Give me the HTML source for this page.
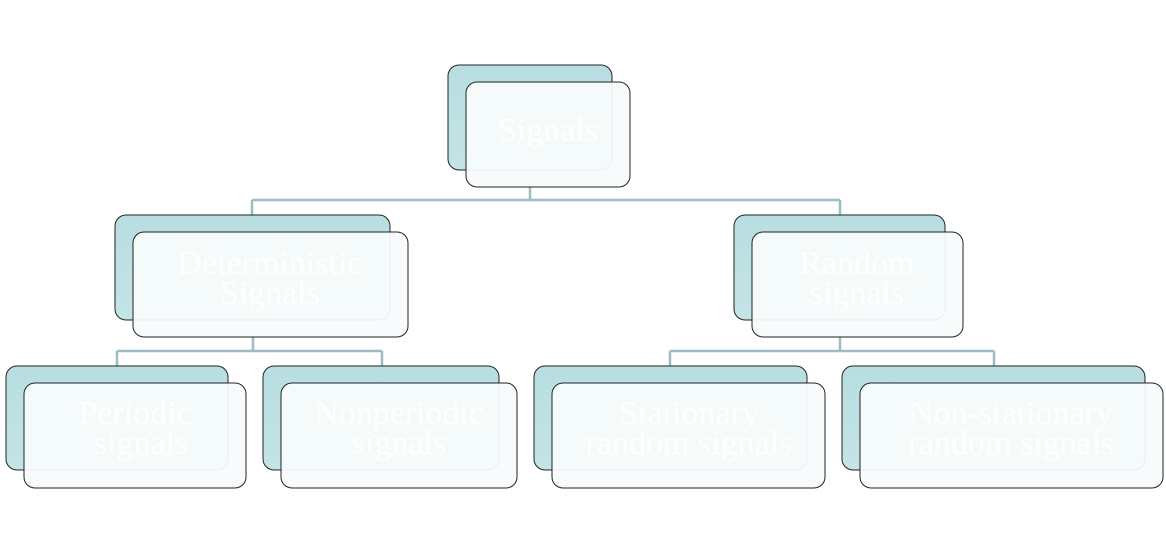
<!DOCTYPE html>
<html><head><style>body{margin:0;background:#fff}svg{display:block}</style></head><body>
<svg width="1166" height="553" xmlns="http://www.w3.org/2000/svg">
<defs>
<linearGradient id="g" x1="0" y1="0" x2="0" y2="1"><stop offset="0" stop-color="#b8dee1"/><stop offset="1" stop-color="#c4e4e6"/></linearGradient>
</defs>
<g stroke="#9cbec2" stroke-width="2.5" fill="none">
<path d="M530 187V200M252 200H840M252 200V215M840 200V215"/>
<path d="M253 337V351M117 351H382M117 351V366M382 351V366"/>
<path d="M840 337V351M670 351H994M670 351V366M994 351V366"/>
</g>
<g font-family="'Liberation Serif',serif" font-size="34" fill="#fff" text-anchor="middle">
<rect x="448" y="65" width="164" height="105" rx="11" fill="url(#g)" stroke="#222"/>
<rect x="466" y="82" width="164" height="105" rx="11" fill="#f8fbfb" fill-opacity="0.95" stroke="#222"/>
<text x="548" y="141">Signals</text>

<rect x="115" y="215" width="275" height="105" rx="11" fill="url(#g)" stroke="#222"/>
<rect x="133" y="232" width="275" height="105" rx="11" fill="#f8fbfb" fill-opacity="0.95" stroke="#222"/>
<text x="270" y="274">Deterministic</text><text x="270" y="304">Signals</text>

<rect x="734" y="215" width="211" height="105" rx="11" fill="url(#g)" stroke="#222"/>
<rect x="752" y="232" width="211" height="105" rx="11" fill="#f8fbfb" fill-opacity="0.95" stroke="#222"/>
<text x="857" y="274">Random</text><text x="857" y="304">signals</text>

<rect x="6" y="366" width="222" height="104" rx="11" fill="url(#g)" stroke="#222"/>
<rect x="24" y="383" width="222" height="105" rx="11" fill="#f8fbfb" fill-opacity="0.95" stroke="#222"/>
<text x="135" y="424">Periodic</text><text x="141" y="454">signals</text>

<rect x="263" y="366" width="236" height="104" rx="11" fill="url(#g)" stroke="#222"/>
<rect x="281" y="383" width="236" height="105" rx="11" fill="#f8fbfb" fill-opacity="0.95" stroke="#222"/>
<text x="399" y="424">Nonperiodic</text><text x="399" y="454">signals</text>

<rect x="534" y="366" width="273" height="104" rx="11" fill="url(#g)" stroke="#222"/>
<rect x="552" y="383" width="273" height="105" rx="11" fill="#f8fbfb" fill-opacity="0.95" stroke="#222"/>
<text x="689" y="424">Stationary</text><text x="689" y="454">random signals</text>

<rect x="842" y="366" width="303" height="104" rx="11" fill="url(#g)" stroke="#222"/>
<rect x="860" y="383" width="303" height="105" rx="11" fill="#f8fbfb" fill-opacity="0.95" stroke="#222"/>
<text x="1011" y="424">Non-stationary</text><text x="1011" y="454">random signals</text>
</g>
</svg>
</body></html>
